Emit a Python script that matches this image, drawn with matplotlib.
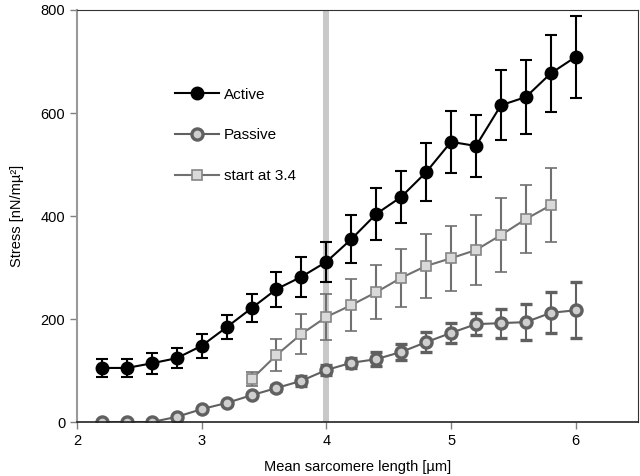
import matplotlib
matplotlib.use("Agg")
import matplotlib.pyplot as plt
from matplotlib.lines import Line2D

plt.rcParams['font.family'] = ['Liberation Sans', 'DejaVu Sans']

x_all = [2.2, 2.4, 2.6, 2.8, 3.0, 3.2, 3.4, 3.6, 3.8, 4.0,
         4.2, 4.4, 4.6, 4.8, 5.0, 5.2, 5.4, 5.6, 5.8, 6.0]
active = [105, 105, 114, 124, 148, 184, 221, 258, 282, 311,
          355, 404, 437, 485, 544, 536, 615, 631, 677, 709]
active_err = [17, 17, 20, 19, 23, 23, 27, 34, 39, 39,
              46, 50, 50, 56, 60, 60, 68, 72, 75, 80]
passive = [0, 0, 0, 10, 25, 37, 52, 66, 80, 101,
           115, 122, 136, 155, 173, 190, 192, 194, 212, 217]
passive_err = [0, 0, 0, 2, 3, 3, 4, 5, 10, 9,
               10, 14, 15, 19, 20, 21, 28, 35, 40, 54]
x_start = [3.4, 3.6, 3.8, 4.0, 4.2, 4.4, 4.6, 4.8, 5.0, 5.2, 5.4, 5.6, 5.8]
start = [83, 130, 171, 204, 227, 252, 280, 303, 318, 334, 363, 394, 421]
start_err = [14, 31, 39, 44, 50, 52, 56, 63, 63, 67, 71, 66, 72]

fig = plt.figure(figsize=(6.4, 4.76), dpi=100)
ax = fig.add_axes([0.1203, 0.1134, 0.8767, 0.8656])

ax.axvline(4.0, color='#c8c8c8', lw=4.3, zorder=0.5)

p_style = dict(color='#606060', lw=1.5, marker='o', ms=8, mfc='#cfcfcf',
               mec='#606060', mew=2.4)
s_style = dict(color='#707070', lw=1.5, marker='s', ms=7.5, mfc='#d9d9d9',
               mec='#858585', mew=1.2)
a_style = dict(color='black', lw=1.5, marker='o', ms=9, mfc='black', mec='black')

ax.errorbar(x_all, passive, yerr=passive_err, capsize=4, capthick=1.5,
            elinewidth=1.5, zorder=2, **p_style)
ax.errorbar(x_start, start, yerr=start_err, capsize=4, capthick=1.5,
            elinewidth=1.5, zorder=3, **s_style)
ax.errorbar(x_all, active, yerr=active_err, capsize=4, capthick=1.5,
            elinewidth=1.5, zorder=4, **a_style)

ax.set_xlim(2, 6.5)
ax.set_ylim(0, 800)
ax.set_xticks([2, 3, 4, 5, 6])
ax.set_yticks([0, 200, 400, 600, 800])
ax.tick_params(direction='out', length=5, width=1, colors='#808080',
               labelcolor='black', labelsize=10.5)

ax.spines['left'].set_color('#999999')
ax.spines['left'].set_linewidth(1.5)
ax.spines['bottom'].set_color('#222222')
ax.spines['bottom'].set_linewidth(1.2)
ax.spines['top'].set_color('#333333')
ax.spines['top'].set_linewidth(0.8)
ax.spines['right'].set_color('#333333')
ax.spines['right'].set_linewidth(0.8)

ax.set_xlabel('Mean sarcomere length [µm]', fontsize=10.5, labelpad=9)
ax.set_ylabel('Stress [nN/mµ²]', fontsize=10.5, labelpad=12)

handles = [Line2D([], [], **a_style), Line2D([], [], **p_style),
           Line2D([], [], **s_style)]
labels = ['Active', 'Passive', 'start at 3.4']
ax.legend(handles, labels, loc='upper left', bbox_to_anchor=(0.15, 0.845),
          frameon=False, fontsize=11, labelspacing=1.75, handlelength=2.9,
          handletextpad=0.3)

fig.savefig('out.png', dpi=100)
